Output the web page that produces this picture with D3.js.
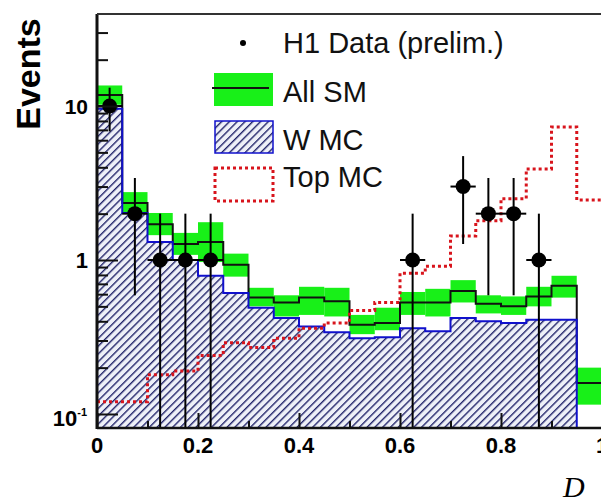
<!DOCTYPE html>
<html>
<head>
<meta charset="utf-8">
<script src="https://cdn.jsdelivr.net/npm/d3@7"></script>
<style>
  body { margin: 0; background: white; }
  svg { display: block; }
</style>
</head>
<body>
<div class="canvas"></div>
<script>
const svgWidth = 601;
const svgHeight = 500;

// histogram bins, 0.05 wide
const binEdges = [0, 0.05, 0.1, 0.15, 0.2, 0.25, 0.3, 0.35, 0.4, 0.45, 0.5,
                  0.55, 0.6, 0.65, 0.7, 0.75, 0.8, 0.85, 0.9, 0.95, 1.0];

// W MC (blue hatched)
const wMC = [9.6, 2.02, 1.31, 1.0, 0.79, 0.61, 0.49, 0.42, 0.37, 0.34,
             0.31, 0.315, 0.36, 0.345, 0.42, 0.40, 0.39, 0.41, 0.41, 0];
// All SM (black line) with green uncertainty band
const allSM = [11.8, 2.35, 1.71, 1.27, 1.31, 0.93, 0.57, 0.53, 0.57, 0.54,
               0.38, 0.39, 0.53, 0.53, 0.63, 0.52, 0.50, 0.58, 0.68, 0.159];
const smLow = [10.2, 2.02, 1.45, 1.08, 0.97, 0.78, 0.50, 0.43, 0.44, 0.43,
               0.33, 0.35, 0.44, 0.43, 0.53, 0.45, 0.44, 0.50, 0.57, 0.115];
const smHigh = [13.6, 2.76, 2.02, 1.50, 1.76, 1.10, 0.66, 0.59, 0.67, 0.66,
                0.44, 0.49, 0.62, 0.65, 0.74, 0.59, 0.58, 0.67, 0.79, 0.20];
// Top MC (red dotted)
const topMC = [0.12, 0.12, 0.18, 0.19, 0.24, 0.29, 0.27, 0.31, 0.36, 0.39,
               0.47, 0.53, 0.82, 0.91, 1.43, 1.8, 2.5, 3.9, 7.3, 2.45];

// H1 data points
const dataX = [0.025, 0.075, 0.125, 0.175, 0.225, 0.625, 0.725, 0.775, 0.825, 0.875];
const dataN = [10, 2, 1, 1, 1, 1, 3, 2, 2, 1];
const dataErr = [3.16, 1.41, 1, 1, 1, 1, 1.73, 1.41, 1.41, 1];

// axis ticks
const xMajor = [0, 0.2, 0.4, 0.6, 0.8, 1.0];
const xLabels = ['0', '0.2', '0.4', '0.6', '0.8', '1'];
const xMinor = [0.1, 0.3, 0.5, 0.7, 0.9];
const yMajor = [0.1, 1, 10];
const yMinor = [0.2, 0.3, 0.4, 0.5, 0.6, 0.7, 0.8, 0.9, 2, 3, 4, 5, 6, 7, 8, 9, 20, 30];

const legendItems = ['H1 Data (prelim.)', 'All SM', 'W MC', 'Top MC'];

const svg = d3.select('.canvas')
    .append('svg')
    .attr('width', svgWidth)
    .attr('height', svgHeight);

const plot = { left: 97, right: 602, top: 14, bottom: 428 };

const x = d3.scaleLinear().domain([0, 1]).range([plot.left, plot.right]);
const y = d3.scaleLog().domain([0.0811, 39.6]).range([plot.bottom, plot.top]);
const yc = v => (v > 0 ? y(v) : plot.bottom + 5);

const defs = svg.append('defs');
defs.append('clipPath').attr('id', 'plotClip')
    .append('rect')
    .attr('x', plot.left).attr('y', plot.top)
    .attr('width', plot.right - plot.left + 5).attr('height', plot.bottom - plot.top);

// hatch for W MC
const hatch = defs.append('pattern')
    .attr('id', 'hatch')
    .attr('patternUnits', 'userSpaceOnUse')
    .attr('width', 5.5).attr('height', 5.5)
    .attr('patternTransform', 'rotate(45)');
hatch.append('rect').attr('width', 5.5).attr('height', 5.5).attr('fill', '#eef0f8');
hatch.append('line')
    .attr('x1', 0).attr('y1', 0).attr('x2', 0).attr('y2', 5.5)
    .attr('stroke', '#22246a').attr('stroke-width', 2.8);

const g = svg.append('g').attr('clip-path', 'url(#plotClip)');

// turn bin values into step points
const steps = vals => vals.flatMap((v, i) => [[binEdges[i], v], [binEdges[i + 1], v]]);

// W MC hatched fill
g.append('path')
    .datum(steps(wMC))
    .attr('fill', 'url(#hatch)')
    .attr('d', d3.area().x(d => x(d[0])).y0(plot.bottom).y1(d => yc(d[1])));

// green band
g.selectAll('.band')
    .data(allSM)
    .enter()
    .append('rect')
    .attr('class', 'band')
    .attr('x', (d, i) => x(binEdges[i]))
    .attr('width', (d, i) => x(binEdges[i + 1]) - x(binEdges[i]))
    .attr('y', (d, i) => y(smHigh[i]))
    .attr('height', (d, i) => y(smLow[i]) - y(smHigh[i]))
    .attr('fill', '#18f018');

const stepLine = d3.line().x(d => x(d[0])).y(d => yc(d[1]));

g.append('path')
    .datum(steps(allSM))
    .attr('fill', 'none')
    .attr('stroke', '#111')
    .attr('stroke-width', 2)
    .attr('d', stepLine);

g.append('path')
    .datum(steps(wMC))
    .attr('fill', 'none')
    .attr('stroke', '#1010cc')
    .attr('stroke-width', 2)
    .attr('d', stepLine);

g.append('path')
    .datum(steps(topMC))
    .attr('fill', 'none')
    .attr('stroke', '#d8141c')
    .attr('stroke-width', 3)
    .attr('stroke-dasharray', '3,3')
    .attr('d', stepLine);

// data points with error bars
const pts = g.selectAll('.pt')
    .data(dataX.map((d, i) => ({ x: d, n: dataN[i], e: dataErr[i] })))
    .enter()
    .append('g')
    .attr('class', 'pt');

pts.append('line')
    .attr('x1', d => x(d.x)).attr('x2', d => x(d.x))
    .attr('y1', d => y(d.n + d.e))
    .attr('y2', d => (d.n - d.e > 0 ? y(d.n - d.e) : plot.bottom + 5))
    .attr('stroke', '#000').attr('stroke-width', 2);

pts.append('line')
    .attr('x1', d => x(d.x - 0.025)).attr('x2', d => x(d.x + 0.025))
    .attr('y1', d => y(d.n)).attr('y2', d => y(d.n))
    .attr('stroke', '#000').attr('stroke-width', 2);

pts.append('circle')
    .attr('cx', d => x(d.x)).attr('cy', d => y(d.n))
    .attr('r', 7.5).attr('fill', '#000');

// axes (ticks inside the frame)
const yAxisMinor = d3.axisLeft(y).tickValues(yMinor).tickSize(-11).tickFormat('');
const yAxisMajor = d3.axisLeft(y).tickValues(yMajor).tickSize(-21).tickFormat('');
const xAxisMinor = d3.axisBottom(x).tickValues(xMinor).tickSize(-7).tickFormat('');
const xAxisMajor = d3.axisBottom(x).tickValues(xMajor).tickSize(-15).tickFormat('');

[yAxisMinor, yAxisMajor].forEach(ax => {
    svg.append('g')
        .attr('transform', `translate(${plot.left}, 0)`)
        .call(ax)
        .call(s => s.select('.domain').remove())
        .selectAll('line').attr('stroke', '#111').attr('stroke-width', 2);
});
[xAxisMinor, xAxisMajor].forEach(ax => {
    svg.append('g')
        .attr('transform', `translate(0, ${plot.bottom})`)
        .call(ax)
        .call(s => s.select('.domain').remove())
        .selectAll('line').attr('stroke', '#111').attr('stroke-width', 2);
});

// frame
svg.append('line')
    .attr('x1', plot.left).attr('x2', plot.left)
    .attr('y1', plot.top).attr('y2', plot.bottom + 1)
    .attr('stroke', '#111').attr('stroke-width', 3);
svg.append('line')
    .attr('x1', plot.left).attr('x2', svgWidth)
    .attr('y1', plot.bottom).attr('y2', plot.bottom)
    .attr('stroke', '#111').attr('stroke-width', 2.5);
svg.append('line')
    .attr('x1', plot.left).attr('x2', svgWidth)
    .attr('y1', plot.top).attr('y2', plot.top)
    .attr('stroke', '#333').attr('stroke-width', 2);

// tick labels
const labelFont = 'Liberation Sans, Arial, Helvetica, sans-serif';
svg.selectAll('.xlab')
    .data(xMajor)
    .enter()
    .append('text')
    .attr('class', 'xlab')
    .attr('x', d => x(d))
    .attr('y', 453)
    .attr('text-anchor', 'middle')
    .attr('font-family', labelFont)
    .attr('font-weight', 'bold')
    .attr('font-size', 22)
    .text((d, i) => xLabels[i]);

svg.append('text')
    .attr('x', 88).attr('y', y(10) + 8)
    .attr('text-anchor', 'end')
    .attr('font-family', labelFont).attr('font-weight', 'bold').attr('font-size', 21)
    .text('10');
svg.append('text')
    .attr('x', 88).attr('y', y(1) + 8)
    .attr('text-anchor', 'end')
    .attr('font-family', labelFont).attr('font-weight', 'bold').attr('font-size', 22)
    .text('1');
const tenth = svg.append('text')
    .attr('x', 87).attr('y', y(0.1) + 12)
    .attr('text-anchor', 'end')
    .attr('font-family', labelFont).attr('font-weight', 'bold').attr('font-size', 22);
tenth.append('tspan').text('10');
tenth.append('tspan').attr('font-size', 11).attr('dy', -10).text('-1');

// axis titles
svg.append('text')
    .attr('transform', 'translate(40, 74) rotate(-90)')
    .attr('text-anchor', 'middle')
    .attr('font-family', labelFont)
    .attr('font-weight', 'bold')
    .attr('font-size', 34)
    .text('Events');

svg.append('text')
    .attr('x', 563).attr('y', 497)
    .attr('font-family', 'Liberation Serif, Times New Roman, serif')
    .attr('font-style', 'italic')
    .attr('font-size', 30)
    .text('D');

// legend
const legend = svg.append('g');
const legendY = [53, 102, 150, 187];
legend.selectAll('text')
    .data(legendItems)
    .enter()
    .append('text')
    .attr('x', 283)
    .attr('y', (d, i) => legendY[i])
    .attr('font-family', labelFont)
    .attr('font-size', 29)
    .attr('fill', '#111')
    .text(d => d);

legend.append('circle').attr('cx', 243).attr('cy', 43).attr('r', 3).attr('fill', '#000');
legend.append('rect')
    .attr('x', 214).attr('y', 73).attr('width', 59).attr('height', 33)
    .attr('fill', '#18f018');
legend.append('line')
    .attr('x1', 212).attr('x2', 269).attr('y1', 88).attr('y2', 88)
    .attr('stroke', '#111').attr('stroke-width', 2);
legend.append('rect')
    .attr('x', 215).attr('y', 121).attr('width', 58).attr('height', 32)
    .attr('fill', 'url(#hatch)')
    .attr('stroke', '#1010cc').attr('stroke-width', 1.5);
legend.append('rect')
    .attr('x', 215).attr('y', 168).attr('width', 58).attr('height', 33)
    .attr('fill', 'none')
    .attr('stroke', '#d8141c').attr('stroke-width', 3)
    .attr('stroke-dasharray', '3,3');
</script>
</body>
</html>
